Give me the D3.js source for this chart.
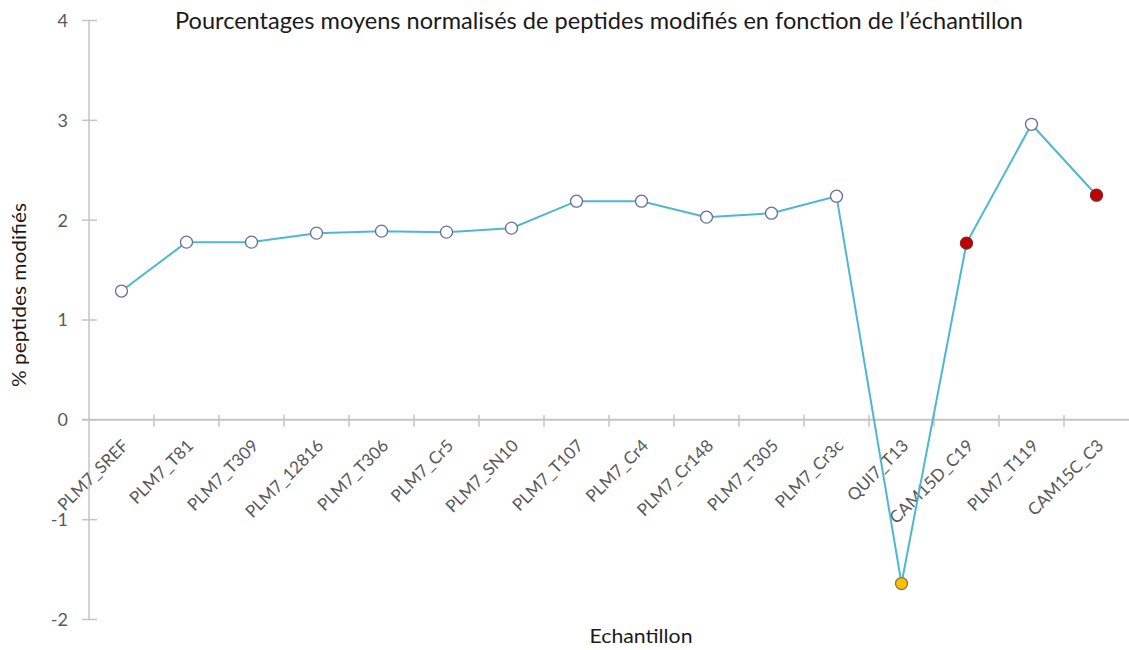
<!DOCTYPE html>
<html>
<head>
<meta charset="utf-8">
<script src="https://cdn.jsdelivr.net/npm/d3@7"></script>
<style>
  html, body { margin: 0; padding: 0; background: #fff; }
  svg { display: block; }
</style>
</head>
<body>
<svg id="chart" width="1129" height="650"></svg>
<script>
// Samples along the x axis
const categories = [
  "PLM7_SREF", "PLM7_T81", "PLM7_T309", "PLM7_12816", "PLM7_T306",
  "PLM7_Cr5", "PLM7_SN10", "PLM7_T107", "PLM7_Cr4", "PLM7_Cr148",
  "PLM7_T305", "PLM7_Cr3c", "QUI7_T13", "CAM15D_C19", "PLM7_T119", "CAM15C_C3"
];
// Mean normalised percentage of modified peptides
const values = [
  1.29, 1.78, 1.78, 1.87, 1.89,
  1.88, 1.92, 2.19, 2.19, 2.03,
  2.07, 2.24, -1.64, 1.77, 2.96, 2.25
];
// Marker group of each sample
const groups = [
  "plm", "plm", "plm", "plm", "plm",
  "plm", "plm", "plm", "plm", "plm",
  "plm", "plm", "qui", "cam", "plm", "cam"
];
const yTicks = [-2, -1, 0, 1, 2, 3, 4];

const title = "Pourcentages moyens normalisés de peptides modifiés en fonction de l\u2019échantillon";
const yTitle = "% peptides modifiés";
const xTitle = "Echantillon";

const markerFill = { plm: "#ffffff", qui: "#ffc000", cam: "#c00000" };
const markerStroke = { plm: "#6a6f98", qui: "#8a7a40", cam: "#7a2a2a" };

const svg = d3.select("#chart");
const font = "Lato, 'Open Sans', 'DejaVu Sans', sans-serif";
const axisColor = "#c4c4c4";
const tickText = "#595959";

const x = d3.scaleBand().domain(categories).range([89, 1129]);
const y = d3.scaleLinear().domain([-2, 4]).range([619.5, 20.5]);

// Y axis line and crossing ticks
svg.append("line")
  .attr("x1", 89).attr("x2", 89)
  .attr("y1", y(4)).attr("y2", y(-2))
  .attr("stroke", axisColor).attr("stroke-width", 1.5);

svg.selectAll(".ytick").data(yTicks).join("line")
  .attr("class", "ytick")
  .attr("x1", 82).attr("x2", 97)
  .attr("y1", d => y(d)).attr("y2", d => y(d))
  .attr("stroke", axisColor).attr("stroke-width", 1.5);

svg.selectAll(".ylab").data(yTicks).join("text")
  .attr("class", "ylab")
  .attr("x", 68).attr("y", d => y(d))
  .attr("dy", "0.36em")
  .attr("text-anchor", "end")
  .attr("font-family", font).attr("font-size", 18)
  .attr("fill", tickText)
  .text(d => d);

// X axis along zero, with ticks at category boundaries
svg.append("line")
  .attr("x1", 82).attr("x2", 1129)
  .attr("y1", y(0)).attr("y2", y(0))
  .attr("stroke", axisColor).attr("stroke-width", 2);

const boundaries = categories.slice(1).map(c => x(c));
svg.selectAll(".xtick").data(boundaries).join("line")
  .attr("class", "xtick")
  .attr("x1", d => d).attr("x2", d => d)
  .attr("y1", y(0) - 5).attr("y2", y(0) + 7)
  .attr("stroke", axisColor).attr("stroke-width", 1.5);

svg.selectAll(".xlab").data(categories).join("text")
  .attr("class", "xlab")
  .attr("transform", d => `translate(${x(d) + x.bandwidth() / 2 + 8},${y(0) + 27}) rotate(-45)`)
  .attr("text-anchor", "end")
  .attr("font-family", font).attr("font-size", 17)
  .attr("fill", tickText)
  .text(d => d);

// Series line
const pts = categories.map((c, i) => ({ c, v: values[i], g: groups[i] }));
const line = d3.line()
  .x(d => x(d.c) + x.bandwidth() / 2)
  .y(d => y(d.v));

svg.append("path")
  .datum(pts)
  .attr("d", line)
  .attr("fill", "none")
  .attr("stroke", "#4db8cf")
  .attr("stroke-width", 2);

svg.selectAll(".pt").data(pts).join("circle")
  .attr("class", "pt")
  .attr("cx", d => x(d.c) + x.bandwidth() / 2)
  .attr("cy", d => y(d.v))
  .attr("r", 6)
  .attr("fill", d => markerFill[d.g])
  .attr("stroke", d => markerStroke[d.g])
  .attr("stroke-width", 1.3);

// Titles
svg.append("text")
  .attr("x", 599).attr("y", 29)
  .attr("text-anchor", "middle")
  .attr("font-family", font).attr("font-size", 23)
  .attr("textLength", 848).attr("lengthAdjust", "spacingAndGlyphs")
  .attr("fill", "#1a1a1a")
  .text(title);

svg.append("text")
  .attr("transform", "translate(26,295) rotate(-90)")
  .attr("text-anchor", "middle")
  .attr("font-family", font).attr("font-size", 19)
  .attr("textLength", 184).attr("lengthAdjust", "spacingAndGlyphs")
  .attr("fill", "#1a1a1a")
  .text(yTitle);

svg.append("text")
  .attr("x", 641).attr("y", 643)
  .attr("text-anchor", "middle")
  .attr("font-family", font).attr("font-size", 20)
  .attr("textLength", 103).attr("lengthAdjust", "spacingAndGlyphs")
  .attr("fill", "#1a1a1a")
  .text(xTitle);
</script>
</body>
</html>
